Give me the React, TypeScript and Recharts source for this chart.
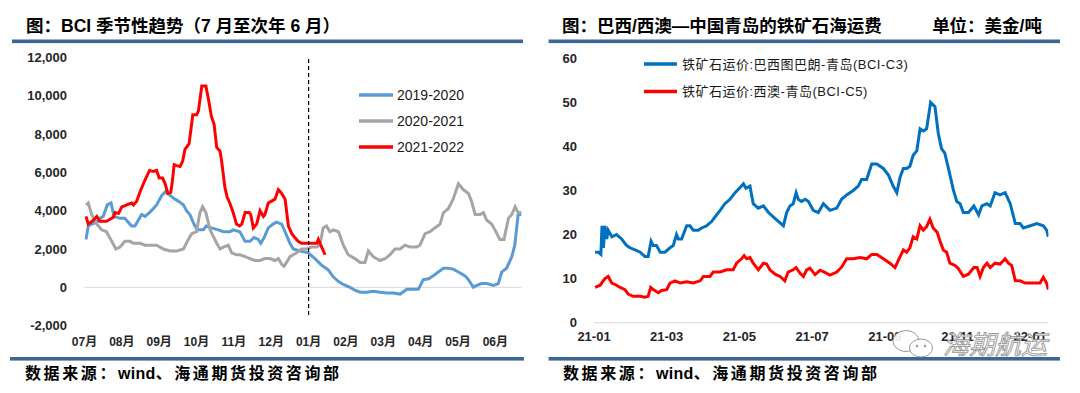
import React from 'react';
import { LineChart, Line, XAxis, YAxis, ReferenceLine, Legend } from 'recharts';

const FONT = '"Liberation Sans", "Noto Sans CJK SC", sans-serif';

// ---------- Left chart: BCI seasonal ----------
const seasonMonths = ['07月', '08月', '09月', '10月', '11月', '12月', '01月', '02月', '03月', '04月', '05月', '06月'];
const seasonTicks = [0, 1, 2, 3, 4, 5, 6, 7, 8, 9, 10, 11];
const bciYTicks = [-2000, 0, 2000, 4000, 6000, 8000, 10000, 12000];

// [month offset from 1 Jul, index value]
const bci2019_2020: [number, number][] = [
  [0.04, 2500], [0.1, 3200], [0.19, 3300], [0.33, 3400], [0.41, 3600], [0.5, 3700], [0.61, 4300], [0.71, 4400],
  [0.79, 3700], [0.95, 3600], [1.08, 3600], [1.17, 3400], [1.26, 3200], [1.35, 3200], [1.44, 3500], [1.53, 3800],
  [1.62, 3700], [1.74, 3900], [1.84, 4100], [1.93, 4300], [2.07, 4800], [2.17, 5000], [2.29, 4800], [2.42, 4600],
  [2.51, 4500], [2.65, 4300], [2.73, 4000], [2.82, 3800], [2.93, 3300], [3.02, 3000], [3.18, 3000], [3.26, 3200],
  [3.4, 3100], [3.58, 3000], [3.72, 2900], [3.89, 2900], [3.98, 3000], [4.16, 2900], [4.3, 2400], [4.43, 2400],
  [4.54, 2600], [4.65, 2500], [4.72, 2300], [4.81, 2600], [4.92, 3100], [5.05, 3300], [5.14, 3400], [5.28, 3300],
  [5.37, 2900], [5.5, 2300], [5.59, 2000], [5.77, 1900], [5.99, 1800], [6.17, 1500], [6.35, 1150], [6.53, 900],
  [6.66, 550], [6.8, 300], [6.93, 150], [7.11, 0], [7.24, -150], [7.38, -250], [7.55, -250], [7.73, -200],
  [7.91, -250], [8.09, -300], [8.27, -300], [8.45, -350], [8.63, -100], [8.94, -100], [9.07, 400], [9.21, 450],
  [9.34, 600], [9.47, 800], [9.61, 1000], [9.74, 1000], [9.87, 950], [10.01, 800], [10.19, 600], [10.28, 400],
  [10.41, 0], [10.5, 100], [10.63, 200], [10.77, 200], [10.95, 100], [11.08, 200], [11.17, 800], [11.3, 1000],
  [11.44, 1600], [11.52, 2200], [11.61, 3800], [11.7, 3800],
];

const bci2020_2021: [number, number][] = [
  [0.04, 4300], [0.1, 4400], [0.19, 3800], [0.33, 3300], [0.46, 3000], [0.59, 2900], [0.73, 2400], [0.84, 2000],
  [0.95, 2100], [1.08, 2400], [1.22, 2400], [1.31, 2300], [1.49, 2300], [1.62, 2200], [1.75, 2200], [1.93, 2200],
  [2.11, 2000], [2.29, 1900], [2.47, 1900], [2.65, 2000], [2.78, 2500], [2.87, 2800], [3.0, 2900], [3.09, 3900],
  [3.16, 4200], [3.25, 3900], [3.36, 3000], [3.54, 2300], [3.63, 2000], [3.72, 2100], [3.85, 2200], [3.94, 1800],
  [4.07, 1700], [4.16, 1700], [4.3, 1600], [4.43, 1500], [4.56, 1400], [4.7, 1400], [4.83, 1500], [4.97, 1500],
  [5.1, 1400], [5.19, 1500], [5.28, 1200], [5.34, 1100], [5.41, 1300], [5.5, 1600], [5.59, 1700], [5.68, 1800],
  [5.81, 2000], [5.95, 2000], [6.08, 2100], [6.22, 2100], [6.3, 2200], [6.39, 3100], [6.48, 3200], [6.57, 2900],
  [6.66, 3000], [6.8, 2900], [6.93, 2200], [7.06, 1700], [7.24, 1500], [7.38, 1300], [7.51, 1300], [7.6, 1900],
  [7.73, 1600], [7.91, 1400], [8.05, 1500], [8.18, 1700], [8.31, 2000], [8.45, 2000], [8.58, 2200], [8.72, 2100],
  [8.89, 2100], [8.98, 2200], [9.12, 2800], [9.25, 2900], [9.38, 3100], [9.52, 3300], [9.61, 3900], [9.74, 4100],
  [9.87, 4600], [10.01, 5400], [10.14, 5100], [10.28, 4900], [10.36, 4500], [10.46, 3800], [10.59, 3800],
  [10.68, 3900], [10.77, 3500], [10.9, 3300], [10.99, 3000], [11.12, 2500], [11.23, 2500], [11.35, 3600],
  [11.44, 3800], [11.53, 4200], [11.61, 3900], [11.7, 3900],
];

const bci2021_2022: [number, number][] = [
  [0.04, 3700], [0.1, 3300], [0.24, 3500], [0.33, 3700], [0.41, 3450], [0.59, 3450], [0.68, 3550], [0.77, 3650],
  [0.82, 3900], [0.91, 3850], [1.0, 4200], [1.13, 4300], [1.26, 4400], [1.31, 4300], [1.4, 4500], [1.49, 5000],
  [1.62, 5600], [1.74, 6100], [1.84, 6050], [1.93, 6100], [2.0, 5700], [2.09, 5700], [2.16, 5400], [2.23, 4900],
  [2.31, 4950], [2.35, 5500], [2.4, 6400], [2.47, 6350], [2.56, 6300], [2.63, 6600], [2.69, 7200], [2.8, 7500],
  [2.9, 9000], [3.0, 9000], [3.05, 9200], [3.14, 10500], [3.25, 10500], [3.32, 9800], [3.4, 8900], [3.47, 8500],
  [3.54, 7300], [3.63, 7100], [3.67, 6600], [3.76, 5200], [3.82, 4700], [3.89, 4400], [3.98, 3900], [4.07, 3300],
  [4.15, 3200], [4.21, 3300], [4.3, 3900], [4.41, 3900], [4.45, 3800], [4.52, 3100], [4.61, 3300], [4.7, 4000],
  [4.79, 3700], [4.83, 3800], [4.92, 4400], [5.01, 4500], [5.1, 4600], [5.19, 5100], [5.28, 4900], [5.37, 4600],
  [5.46, 3200], [5.55, 2800], [5.63, 2600], [5.72, 2400], [5.81, 2300], [6.22, 2300], [6.26, 2500], [6.35, 2100],
  [6.44, 1700],
];

// ---------- Right chart: iron ore freight ----------
const freightTicks = [0, 2, 4, 6, 8, 10, 12];
const freightLabels = ['21-01', '21-03', '21-05', '21-07', '21-09', '21-11', '22-01'];
const freightYTicks = [0, 10, 20, 30, 40, 50, 60];

// [months since 1 Jan 2021, USD/t]
const routeC3: [number, number][] = [
  [0.03, 16], [0.12, 16], [0.19, 15.5], [0.22, 22], [0.26, 17], [0.3, 22], [0.35, 19], [0.39, 21], [0.49, 19.5],
  [0.62, 20], [0.76, 19], [0.9, 17.5], [0.99, 17], [1.13, 16.5], [1.27, 16], [1.4, 15], [1.49, 15], [1.57, 18.5],
  [1.63, 17.5], [1.72, 17.5], [1.82, 16], [1.95, 16], [2.09, 17], [2.18, 17.5], [2.27, 20], [2.32, 19], [2.41, 19],
  [2.55, 22], [2.64, 22], [2.73, 21], [2.87, 21], [2.96, 21.5], [3.1, 22], [3.24, 23], [3.33, 24], [3.47, 25.5],
  [3.6, 27], [3.74, 28], [3.88, 29.5], [4.0, 30.5], [4.11, 31.5], [4.18, 30.5], [4.29, 31], [4.38, 27], [4.52, 26],
  [4.66, 26.5], [4.8, 25], [4.93, 24], [5.07, 23], [5.21, 22], [5.3, 25], [5.39, 26.5], [5.48, 27], [5.56, 29.5],
  [5.62, 28], [5.71, 27.5], [5.81, 28], [5.9, 27.5], [6.03, 25.5], [6.17, 25], [6.31, 27], [6.49, 25.5], [6.68, 26],
  [6.81, 28], [6.95, 29], [7.13, 30], [7.27, 31], [7.36, 32.5], [7.5, 32.5], [7.64, 36], [7.78, 36], [7.96, 35],
  [8.1, 33.5], [8.23, 31], [8.33, 29.5], [8.42, 33], [8.51, 35], [8.6, 35], [8.69, 35.5], [8.78, 38], [8.88, 39],
  [8.97, 44], [9.06, 43.5], [9.15, 44], [9.26, 50], [9.38, 49], [9.47, 43], [9.56, 39.5], [9.65, 38.5], [9.75, 35],
  [9.89, 30], [9.98, 27.5], [10.07, 27], [10.16, 25], [10.3, 25], [10.45, 26.5], [10.58, 24.5], [10.67, 26.5],
  [10.81, 27], [10.9, 26.5], [11.03, 29.5], [11.17, 29], [11.31, 29.5], [11.45, 27], [11.59, 22.5], [11.72, 22.5],
  [11.81, 21.5], [12.0, 22], [12.18, 22.5], [12.36, 22], [12.45, 21], [12.5, 19.5],
];

const routeC5: [number, number][] = [
  [0.03, 8], [0.17, 8.5], [0.3, 10], [0.39, 10.5], [0.49, 9], [0.62, 8.5], [0.72, 8], [0.85, 7.5], [0.94, 6.5],
  [1.08, 6], [1.27, 6], [1.4, 5.8], [1.49, 6], [1.56, 8], [1.63, 7.5], [1.77, 6.8], [1.86, 7.3], [2.0, 7.5], [2.09, 9],
  [2.23, 9.5], [2.37, 9], [2.55, 9.3], [2.73, 9], [2.92, 9.5], [3.01, 10.5], [3.19, 10.5], [3.28, 11.5], [3.47, 11.5],
  [3.65, 12], [3.83, 12], [3.92, 13.5], [4.06, 14.5], [4.13, 15.2], [4.2, 14.5], [4.29, 14.8], [4.38, 13.5],
  [4.52, 12], [4.66, 13.5], [4.75, 13.3], [4.84, 12], [4.98, 11], [5.12, 10.5], [5.25, 9.5], [5.34, 11.5], [5.48, 12],
  [5.56, 12.5], [5.67, 11.2], [5.76, 10.5], [5.85, 12], [5.94, 12.4], [6.08, 10.9], [6.22, 11.9], [6.35, 11.4],
  [6.49, 10.8], [6.68, 11.5], [6.81, 12.6], [6.95, 14.5], [7.13, 14.5], [7.32, 14.8], [7.5, 14.5], [7.64, 15.5],
  [7.78, 15.5], [7.96, 14.5], [8.14, 13.5], [8.28, 12.5], [8.42, 15], [8.51, 16.5], [8.6, 16], [8.69, 17],
  [8.78, 19.5], [8.88, 19], [8.97, 22], [9.06, 21], [9.15, 21.8], [9.24, 23.5], [9.33, 21.5], [9.44, 20.5],
  [9.52, 18.5], [9.61, 16.5], [9.7, 16], [9.79, 13.5], [9.93, 13], [10.02, 12.3], [10.16, 10.5], [10.3, 11],
  [10.45, 12.5], [10.54, 12.5], [10.62, 10.5], [10.71, 12.5], [10.81, 13.5], [10.9, 12.5], [11.03, 13.5],
  [11.17, 13.3], [11.31, 14.5], [11.4, 13.5], [11.49, 13], [11.59, 9.5], [11.72, 9.5], [11.86, 9], [12.09, 9],
  [12.27, 9], [12.36, 10.3], [12.45, 9], [12.5, 7.5],
];

const toRows = (pairs: [number, number][]) => pairs.map(([m, v]) => ({ m, v }));

const RULE = '#3F6597';

const makeLegend = (opts: { lineX1: number; lineX2: number; textX: number; rowY: number[]; fontSize: number; width: number; height: number; fontWeight: number; letterSpacing?: number }) =>
  (props: any) => {
    const payload = props.payload || [];
    return (
      <svg width={opts.width} height={opts.height} style={{ overflow: 'visible' }}>
        {payload.map((p: any, i: number) => (
          <g key={i}>
            <line x1={opts.lineX1} x2={opts.lineX2} y1={opts.rowY[i]} y2={opts.rowY[i]} stroke={p.color} strokeWidth={3.5} />
            <text x={opts.textX} y={opts.rowY[i] + opts.fontSize * 0.36} fontSize={opts.fontSize} fontFamily={FONT} fontWeight={opts.fontWeight} letterSpacing={opts.letterSpacing || 0} fill="#1a1a1a">
              {p.value}
            </text>
          </g>
        ))}
      </svg>
    );
  };

function SeasonChart() {
  const tickStyle = { fontSize: 12, fontWeight: 700, fill: '#262626', fontFamily: FONT };
  return (
    <LineChart width={540} height={393} margin={{ top: 57.3, right: 18.5, bottom: 37.3, left: 0 }}>
      <XAxis
        type="number"
        dataKey="m"
        domain={[0, 11.7]}
        ticks={seasonTicks}
        interval={0}
        tickFormatter={(v: number) => seasonMonths[v]}
        axisLine={false}
        tickLine={false}
        tickSize={0}
        tickMargin={12}
        height={30}
        allowDataOverflow
        tick={tickStyle}
      />
      <YAxis
        type="number"
        domain={[-2000, 12000]}
        ticks={bciYTicks}
        interval={0}
        width={84.5}
        axisLine={false}
        tickLine={false}
        tickSize={0}
        tickMargin={17.5}
        tickFormatter={(v: number) => v.toLocaleString('en-US')}
        tick={{ ...tickStyle, fontSize: 13 }}
      />
      <ReferenceLine y={0} stroke="#D9D9D9" strokeWidth={1} />
      <Line data={toRows(bci2019_2020)} dataKey="v" name="2019-2020" stroke="#5B9BD5" strokeWidth={3} dot={false} isAnimationActive={false} />
      <Line data={toRows(bci2020_2021)} dataKey="v" name="2020-2021" stroke="#A5A5A5" strokeWidth={3} dot={false} isAnimationActive={false} />
      <Line data={toRows(bci2021_2022)} dataKey="v" name="2021-2022" stroke="#FF0000" strokeWidth={3} dot={false} isAnimationActive={false} />
      <ReferenceLine segment={[{ x: 6, y: 11910 }, { x: 6, y: -1550 }]} stroke="#000" strokeWidth={1.2} strokeDasharray="4 3" />
      <Legend
        layout="vertical"
        align="center"
        verticalAlign="middle"
        wrapperStyle={{ position: 'absolute', left: 355, top: 80, width: 180, height: 80 }}
        content={makeLegend({ lineX1: 4, lineX2: 38, textX: 42, rowY: [15, 41, 67], fontSize: 14, width: 180, height: 80, fontWeight: 500 })}
      />
    </LineChart>
  );
}

function FreightChart() {
  const tickStyle = { fontSize: 13, fontWeight: 700, fill: '#262626', fontFamily: FONT };
  return (
    <LineChart width={540} height={393} margin={{ top: 58.3, right: 31.6, bottom: 40.3, left: 0 }}>
      <XAxis
        type="number"
        dataKey="m"
        domain={[0, 12.5]}
        ticks={freightTicks}
        interval={0}
        tickFormatter={(v: number) => freightLabels[freightTicks.indexOf(v)]}
        axisLine={false}
        tickLine={false}
        tickSize={0}
        tickMargin={9.5}
        height={30}
        allowDataOverflow
        tick={tickStyle}
      />
      <YAxis
        type="number"
        domain={[0, 60]}
        ticks={freightYTicks}
        interval={0}
        width={54}
        axisLine={false}
        tickLine={false}
        tickSize={0}
        tickMargin={17}
        tick={tickStyle}
      />
      <ReferenceLine y={0} stroke="#D9D9D9" strokeWidth={1} />
      <Line data={toRows(routeC3)} dataKey="v" name="铁矿石运价:巴西图巴朗-青岛(BCI-C3)" stroke="#0070C0" strokeWidth={3} dot={false} isAnimationActive={false} />
      <Line data={toRows(routeC5)} dataKey="v" name="铁矿石运价:西澳-青岛(BCI-C5)" stroke="#FF0000" strokeWidth={3} dot={false} isAnimationActive={false} />
      <Legend
        layout="vertical"
        align="center"
        verticalAlign="middle"
        wrapperStyle={{ position: 'absolute', left: 100, top: 50, width: 320, height: 60 }}
        content={makeLegend({ lineX1: 4, lineX2: 37, textX: 42, rowY: [14, 41.5], fontSize: 13, width: 320, height: 60, fontWeight: 400, letterSpacing: 0.5 })}
      />
    </LineChart>
  );
}

function SourceNote({ x }: { x: number }) {
  return (
    <text x={x} y={379.4} fontSize={16} fontWeight={700} fontFamily={FONT} fill="#000">
      <tspan letterSpacing={2.6}>数据来源：</tspan>
      <tspan letterSpacing={0.3}>wind</tspan>
      <tspan letterSpacing={2.6}>、海通期货投资咨询部</tspan>
    </text>
  );
}

export default function App() {
  return (
    <div style={{ position: 'absolute', left: 0, top: 0, width: 1080, height: 393, background: '#fff', overflow: 'hidden', fontFamily: FONT }}>
      <div style={{ position: 'absolute', left: 0, top: 0 }}>
        <SeasonChart />
      </div>
      <div style={{ position: 'absolute', left: 540, top: 0 }}>
        <FreightChart />
      </div>
      <svg width={1080} height={393} style={{ position: 'absolute', left: 0, top: 0, pointerEvents: 'none' }}>
        {/* titles */}
        <text x={26} y={31.6} fontSize={17.5} fontWeight={700} fontFamily={FONT} fill="#000">图：BCI 季节性趋势（7 月至次年 6 月）</text>
        <text x={562} y={31.6} fontSize={17.5} fontWeight={700} fontFamily={FONT} fill="#000">图：巴西/西澳—中国青岛的铁矿石海运费</text>
        <text x={1042} y={31.6} fontSize={17.5} fontWeight={700} fontFamily={FONT} fill="#000" textAnchor="end">单位：美金/吨</text>
        {/* rules */}
        <rect x={12} y={39.5} width={511} height={3.6} fill={RULE} />
        <rect x={548.6} y={39.5} width={511.4} height={3.6} fill={RULE} />
        <rect x={10} y={357} width={514} height={3.6} fill={RULE} />
        <rect x={548.6} y={357} width={511.4} height={3.6} fill={RULE} />
        {/* sources */}
        <SourceNote x={25} />
        <SourceNote x={563} />
        {/* watermark */}
        <g opacity={0.9}>
          <ellipse cx={906} cy={341} rx={13} ry={10.5} fill="#fff" stroke="#8f8f8f" strokeWidth={1} />
          <ellipse cx={921} cy={348} rx={11.5} ry={9} fill="#fff" stroke="#8f8f8f" strokeWidth={1} />
          <circle cx={917} cy={346} r={1.2} fill="#8f8f8f" />
          <circle cx={925} cy={346} r={1.2} fill="#8f8f8f" />
          <text x={943} y={354} fontSize={26} fontStyle="italic" fontFamily='"Noto Sans CJK SC", sans-serif' fill="#fff" stroke="#8f8f8f" strokeWidth={0.9}>海期航运</text>
        </g>
      </svg>
    </div>
  );
}
